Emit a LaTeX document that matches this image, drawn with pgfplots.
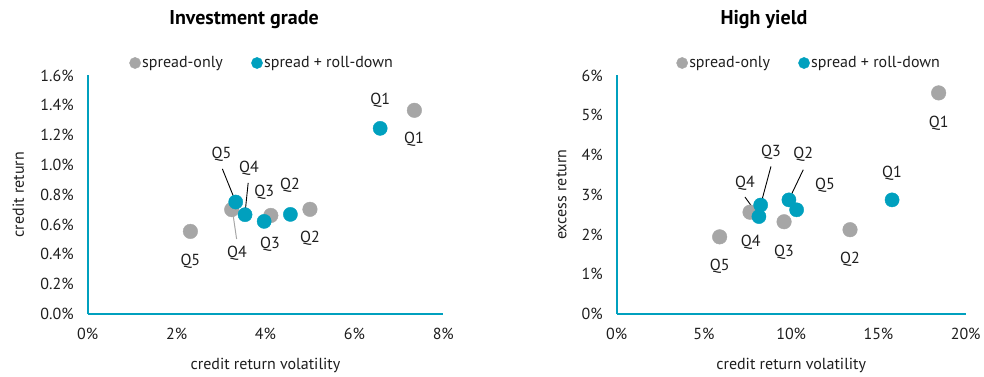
\documentclass[border=0pt]{standalone}
\usepackage{pgfplots}
\pgfplotsset{compat=1.18}
\usepackage{fontspec}
\setmainfont{PT Sans}
\definecolor{tealc}{RGB}{0,160,190}
\definecolor{grayc}{RGB}{166,166,166}
\definecolor{txt}{RGB}{30,30,30}
\begin{document}
\begin{tikzpicture}
\useasboundingbox (0pt,0pt) rectangle (984pt,376pt);
\pgfplotsset{
 myax/.style={
  scale only axis, axis x line=bottom, axis y line=left,
  axis line style={tealc, line width=2pt, -},
  major tick style={draw=none}, major tick length=0pt,
  tick label style={font=\fontsize{16}{18}\selectfont, text=txt},
  yticklabel style={xshift=-10.5pt},
  xticklabel style={yshift=-11pt},
  label style={font=\fontsize{16}{18}\selectfont, text=txt},
  /pgf/number format/assume math mode=true,
  clip=false,
  legend columns=2,
  legend style={draw=none, fill=none, font=\fontsize{16}{18}\selectfont, text=txt,
    nodes={inner sep=1.5pt},
    /tikz/every even column/.append style={column sep=27pt}},
  legend image code/.code={\draw[##1, mark size=5.6pt] plot coordinates {(0pt,0pt)};},
 },
 gr/.style={only marks, mark=*, mark size=7.3pt, color=grayc, mark options={solid, fill=grayc, draw=grayc, line width=0.4pt}},
 tl/.style={only marks, mark=*, mark size=7.1pt, color=tealc, mark options={solid, fill=tealc, draw=tealc, line width=0.4pt}},
}
\tikzset{ql/.style={font=\fontsize{16}{18}\selectfont, text=txt}}
% ---------------- Investment grade
\node[font=\fontsize{20}{24}\selectfont\bfseries, text=black] at (244pt,356pt) {Investment grade};
\begin{axis}[myax, at={(87.7pt,62pt)}, anchor=south west, width=355.6pt, height=238.6pt,
  xmin=0, xmax=8, ymin=0, ymax=1.6,
  xtick={0,2,4,6,8}, ytick={0,0.2,0.4,0.6,0.8,1.0,1.2,1.4,1.6},
  xticklabel={\pgfmathprintnumber[fixed,precision=0]{\tick}\%},
  yticklabel={\pgfmathprintnumber[fixed,fixed zerofill,precision=1]{\tick}\%},
  xlabel={credit return volatility}, ylabel={credit return},
  xlabel style={at={(axis description cs:0.5,0)}, anchor=center, yshift=-51pt},
  ylabel style={at={(axis description cs:-0.195,0.5)}, anchor=center},
  legend style={at={(0.49,1.052)}, anchor=center},
]
\addplot[gr] coordinates {(7.35,1.366) (5.00,0.702) (4.12,0.661) (3.24,0.700) (2.31,0.554)};
\addlegendentry{spread-only}
\addplot[tl] coordinates {(6.58,1.245) (4.56,0.668) (3.97,0.621) (3.54,0.666) (3.33,0.751)};
\addlegendentry{spread + roll-down}
\node[ql] at (axis cs:7.34,1.169) {Q1};
\node[ql] at (axis cs:6.58,1.431) {Q1};
\node[ql] at (axis cs:5.00,0.505) {Q2};
\node[ql] at (axis cs:4.55,0.861) {Q2};
\node[ql] at (axis cs:4.10,0.465) {Q3};
\node[ql] at (axis cs:3.97,0.814) {Q3};
\node[ql] at (axis cs:3.36,0.404) {Q4};
\node[ql] at (axis cs:3.63,0.975) {Q4};
\node[ql] at (axis cs:3.01,1.068) {Q5};
\node[ql] at (axis cs:2.31,0.357) {Q5};
\draw[grayc, line width=1pt] (axis cs:3.35,0.503) -- (axis cs:3.26,0.687);
\draw[black, line width=0.9pt] (axis cs:3.61,0.879) -- (axis cs:3.54,0.677);
\draw[black, line width=0.9pt] (axis cs:3.03,0.973) -- (axis cs:3.33,0.751);
\end{axis}
% ---------------- High yield
\node[font=\fontsize{20}{24}\selectfont\bfseries, text=black] at (764pt,356pt) {High yield};
\begin{axis}[myax, at={(616.7pt,62pt)}, anchor=south west, width=349pt, height=238.6pt,
  xmin=0, xmax=20, ymin=0, ymax=6,
  xtick={0,5,10,15,20}, ytick={0,1,2,3,4,5,6},
  xticklabel={\pgfmathprintnumber[fixed,precision=0]{\tick}\%},
  yticklabel={\pgfmathprintnumber[fixed,precision=0]{\tick}\%},
  xlabel={credit return volatility}, ylabel={excess return},
  xlabel style={at={(axis description cs:0.5,0)}, anchor=center, yshift=-51pt},
  ylabel style={at={(axis description cs:-0.158,0.5)}, anchor=center},
  legend style={at={(0.551,1.052)}, anchor=center},
]
\addplot[gr] coordinates {(18.45,5.56) (13.37,2.12) (9.59,2.32) (7.64,2.56) (5.90,1.94)};
\addlegendentry{spread-only}
\addplot[tl] coordinates {(15.78,2.87) (9.87,2.87) (8.25,2.74) (8.15,2.45) (10.31,2.62)};
\addlegendentry{spread + roll-down}
\node[ql] at (axis cs:18.45,4.80) {Q1};
\node[ql] at (axis cs:15.78,3.545) {Q1};
\node[ql] at (axis cs:13.37,1.365) {Q2};
\node[ql] at (axis cs:10.69,4.005) {Q2};
\node[ql] at (axis cs:11.94,3.226) {Q5};
\node[ql] at (axis cs:9.59,1.559) {Q3};
\node[ql] at (axis cs:8.84,4.064) {Q3};
\node[ql] at (axis cs:7.35,3.294) {Q4};
\node[ql] at (axis cs:7.68,1.81) {Q4};
\node[ql] at (axis cs:5.90,1.197) {Q5};
\draw[black, line width=0.9pt] (axis cs:10.69,3.628) -- (axis cs:9.87,2.875);
\draw[black, line width=0.9pt] (axis cs:8.84,3.711) -- (axis cs:8.25,2.748);
\draw[black, line width=0.9pt] (axis cs:7.35,2.942) -- (axis cs:8.15,2.454);
\end{axis}
\end{tikzpicture}
\end{document}
